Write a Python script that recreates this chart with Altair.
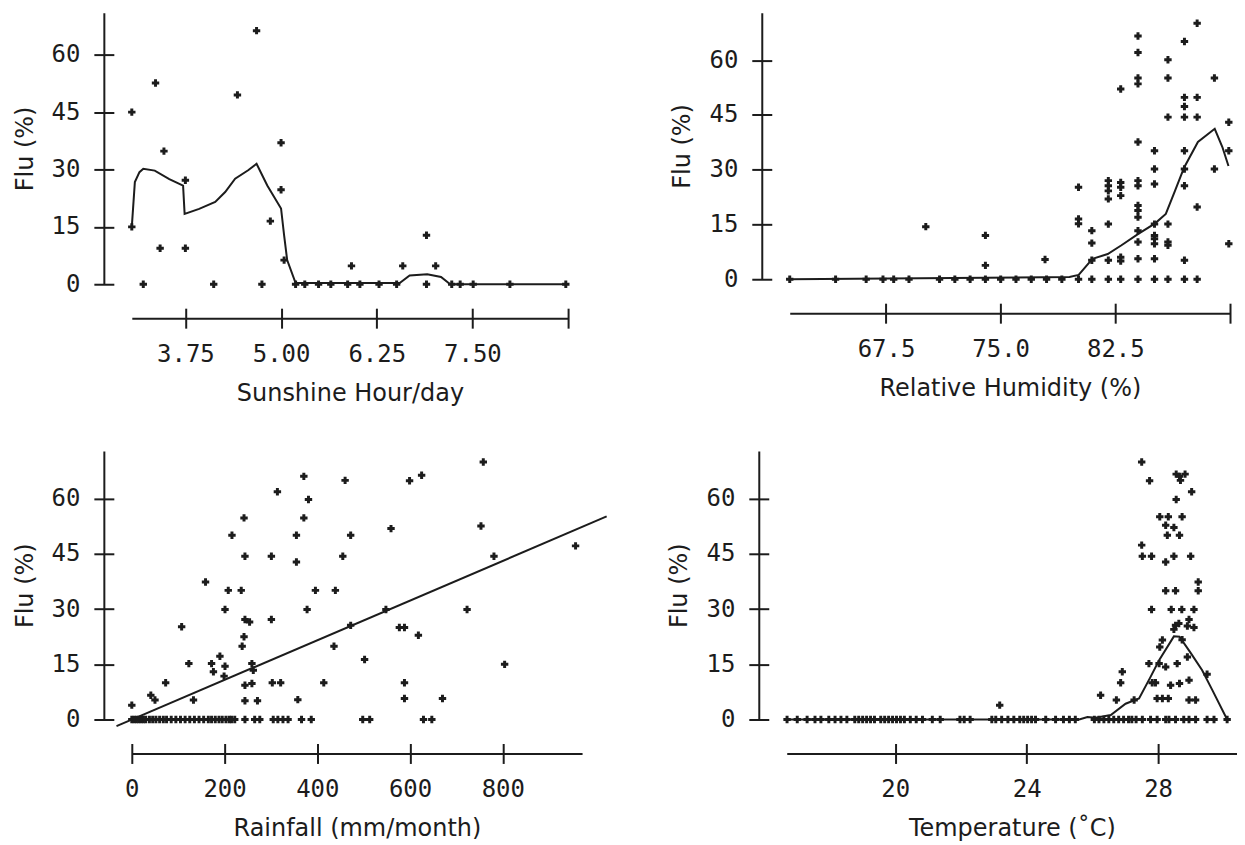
import altair as alt
import pandas as pd

# ---------------- data ----------------
# Panel 1: Sunshine hour/day vs Flu (%)
sun_x = [3.05, 3.05, 3.20, 3.36, 3.42, 3.47, 3.75, 3.75, 4.12, 4.43, 4.68, 4.75, 4.86,
         5.00, 5.00, 5.04, 5.19, 5.31, 5.49, 5.65, 5.87, 5.92, 6.03, 6.28, 6.51, 6.59,
         6.90, 6.90, 7.02, 7.23, 7.34, 7.51, 7.99, 8.72]
sun_flu = [15, 45, 0, 52.6, 9.4, 34.8, 27.2, 9.4, 0, 49.5, 66.3, 0, 16.5,
           37, 24.7, 6.3, 0, 0, 0, 0, 0, 4.8, 0, 0, 0, 4.8,
           12.8, 0, 4.8, 0, 0, 0, 0, 0]
sun_fit_x = [3.05, 3.09, 3.15, 3.20, 3.35, 3.54, 3.72, 3.74, 3.93, 4.14, 4.27, 4.40, 4.57,
             4.68, 4.82, 5.00, 5.04, 5.08, 5.19, 6.55, 6.68, 6.91, 7.09, 7.21, 8.72]
sun_fit_y = [15, 26.7, 29.3, 30.2, 29.7, 27.5, 25.8, 18.4, 19.7, 21.5, 24.1, 27.6, 29.8,
             31.5, 25.8, 19.8, 12.8, 6.3, 0.3, 0.3, 2.3, 2.6, 1.9, 0, 0]

# Panel 2: Relative humidity (%) vs Flu (%)
hum_x = [61.2, 64.2, 66.2, 67.3, 68.0, 69.0, 71.0, 72.0, 73.0, 74.0, 75.0, 76.0, 77.0, 78.0, 79.0,
         70.1, 74.0, 74.0, 77.9,
         80.09, 80.09, 80.09, 80.09,
         80.96, 80.96, 80.96, 80.96,
         82.04, 82.04, 82.04, 82.04, 82.04, 82.04, 82.04,
         82.85, 82.85, 82.85, 82.85, 82.85, 82.85, 82.85,
         83.98, 83.98, 83.98, 83.98, 83.98, 83.98, 83.98, 83.98, 83.98, 83.98, 83.98, 83.98, 83.98, 83.98,
         85.06, 85.06, 85.06, 85.06, 85.06, 85.06, 85.06, 85.06, 85.06,
         85.94, 85.94, 85.94, 85.94, 85.94, 85.94, 85.94,
         87.02, 87.02, 87.02, 87.02, 87.02, 87.02, 87.02, 87.02, 87.02,
         87.85, 87.85, 87.85, 87.85, 87.85,
         88.98, 88.98,
         89.92, 89.92, 89.92]
hum_flu = [0, 0, 0, 0, 0, 0, 0, 0, 0, 0, 0, 0, 0, 0, 0,
           14.4, 12.0, 3.8, 5.4,
           25.2, 16.5, 15.2, 0,
           13.3, 9.9, 5.2, 0,
           27.0, 25.6, 24.2, 22.0, 15.1, 5.2, 0,
           52.1, 26.5, 25.2, 22.9, 6.0, 5.0, 0,
           66.6, 62.1, 55.1, 53.5, 37.6, 27.0, 25.6, 20.2, 18.8, 17.0, 13.3, 10.2, 5.6, 0,
           35.2, 30.2, 26.1, 15.1, 12.0, 11.1, 9.7, 5.6, 0,
           60.1, 55.1, 44.4, 15.1, 10.2, 9.3, 0,
           65.1, 49.8, 47.3, 44.4, 35.2, 30.2, 25.6, 5.2, 0,
           70.1, 49.8, 44.4, 19.8, 0,
           55.1, 30.2,
           43.0, 35.2, 9.7]
hum_fit_x = [61.2, 79.5, 80.1, 81.0, 82.0, 82.9, 84.0, 85.1, 85.8, 86.4, 87.0, 87.9, 89.0, 89.5, 89.9]
hum_fit_y = [0, 0.6, 1.2, 5.6, 6.9, 9.3, 12.4, 15.3, 17.9, 24.2, 30.6, 37.6, 41.2, 36.2, 31.0]

# Panel 3: Rainfall (mm/month) vs Flu (%)
rain_x = [0, 41, 50, 73, 107.5, 123, 133, 159, 172, 176, 190, 201, 199, 201, 208, 216, 236, 238,
          242, 242, 244, 244, 254, 244, 244, 259, 262, 259, 271, 301, 301, 303, 321, 314, 355,
          355, 358, 371, 371, 381, 378, 396, 414, 436, 439, 455, 460, 472, 472, 502, 548, 559,
          577, 588, 588, 588, 599, 618, 625, 670, 723, 753, 758, 781, 804, 957,
          0, 5, 10, 15, 20, 25, 30, 38, 45, 52, 60, 68, 75, 85, 95, 105, 115, 125, 135, 145,
          155, 165, 172, 180, 188, 195, 203, 210, 215, 222, 244, 265, 276, 305, 315, 326, 337,
          366, 387, 498, 513, 629, 647]
rain_flu = [3.9, 6.6, 5.3, 10.0, 25.2, 15.2, 5.3, 37.4, 15.2, 13.0, 17.2, 14.5, 11.8, 29.9, 35.1,
            50.1, 35.1, 19.9, 22.5, 54.8, 44.4, 27.2, 26.5, 9.3, 5.1, 15.2, 13.4, 9.8, 5.1, 44.4,
            27.2, 10.0, 10.0, 61.9, 50.1, 42.8, 5.4, 66.1, 54.8, 59.8, 29.9, 35.1, 10.0, 19.9,
            35.1, 44.4, 65.0, 50.1, 25.6, 16.3, 29.9, 51.9, 25.0, 25.0, 10.0, 5.7, 64.9, 22.9,
            66.4, 5.7, 29.9, 52.6, 70.0, 44.4, 15.0, 47.2,
            0, 0, 0, 0, 0, 0, 0, 0, 0, 0, 0, 0, 0, 0, 0, 0, 0, 0, 0, 0,
            0, 0, 0, 0, 0, 0, 0, 0, 0, 0, 0, 0, 0, 0, 0, 0, 0,
            0, 0, 0, 0, 0, 0]
rain_fit_x = [-33, 1024]
rain_fit_y = [-1.8, 55.2]

# Panel 4: Temperature (C) vs Flu (%)
temp_x = [16.71, 17.02, 17.32, 17.56, 17.74, 17.98, 18.17, 18.35, 18.53, 18.77, 18.89, 19.01,
          19.13, 19.25, 19.37, 19.56, 19.68, 19.80, 19.92, 20.04, 20.16, 20.28, 20.46, 20.64,
          20.83, 21.13, 21.37, 21.97, 22.10, 22.28, 22.94, 23.06, 23.24, 23.43, 23.61, 23.79,
          23.91, 24.03, 24.15, 24.27, 24.58, 24.88, 25.12, 25.30, 25.48, 26.06, 26.20, 26.35,
          26.50, 26.65, 26.80, 26.95, 27.10, 27.20, 27.33, 27.52, 27.77, 27.97, 28.23, 28.33,
          28.53, 28.78, 28.94, 29.14, 29.49, 29.70, 30.10,
          23.18, 27.50, 27.74, 28.55, 28.65, 28.82, 28.68, 29.02, 28.55, 28.05, 28.31, 28.73,
          28.23, 28.48, 28.28, 28.65, 27.50, 27.52, 27.80, 28.23, 28.48, 28.99, 28.23, 28.53,
          29.22, 29.22, 27.80, 28.40, 28.72, 29.09, 28.53, 28.63, 28.94, 28.89, 28.48, 29.09,
          28.05, 28.13, 28.73, 27.72, 28.03, 28.58, 28.23, 28.89, 26.91, 26.86, 27.82, 27.92,
          28.38, 28.65, 28.94, 29.49, 26.25, 26.73, 27.27, 27.97, 28.13, 28.31, 28.94, 29.14]
temp_flu = [0] * 67 + [
          3.9, 70.0, 64.9, 66.7, 66.1, 66.7, 65.0, 61.9, 59.8, 55.1, 55.1, 55.1,
          52.8, 52.2, 50.1, 50.1, 47.4, 44.4, 44.4, 42.8, 44.4, 44.4, 35.0, 35.0,
          37.4, 35.0, 29.9, 29.9, 29.9, 29.9, 25.6, 26.1, 27.2, 25.4, 24.5, 25.0,
          19.7, 21.6, 21.7, 15.2, 15.2, 15.2, 14.3, 17.0, 13.0, 10.0, 10.0, 10.0,
          9.3, 9.8, 10.7, 12.3, 6.6, 5.3, 5.3, 5.7, 5.7, 5.7, 5.3, 5.3]
temp_fit_x = [16.71, 25.6, 25.85, 26.1, 26.56, 27.01, 27.42, 27.77, 28.03, 28.48, 28.65,
              28.99, 29.34, 29.65, 30.10]
temp_fit_y = [0, 0, 0.7, 0.5, 1.2, 4.3, 5.7, 11.6, 16.1, 22.6, 22.5, 18.1, 13.4, 8.0, 0]

flu_ticks = [0, 15, 30, 45, 60]

# ---------------- styling ----------------
INK = "#1c1c1c"
LABEL_FONT = "DejaVu Sans Mono"
TITLE_FONT = "DejaVu Sans"


def panel(px, py, fx, fy, xtitle, xdom, xvals, xfmt, hide_last, ydom, w, h):
    pts = pd.DataFrame({"x": px, "y": py})
    fit = pd.DataFrame({"x": fx, "y": fy})
    xs = alt.Scale(domain=xdom, nice=False, zero=False)
    ys = alt.Scale(domain=ydom, nice=False, zero=False)

    xa = dict(orient="bottom", offset=24, tickSize=20, tickWidth=2, tickColor=INK,
              domain=False, grid=False, values=xvals, format=xfmt,
              labelFont=LABEL_FONT, labelFontSize=24, labelColor=INK, labelPadding=14,
              labelFlush=False, labelOverlap=False,
              titleFont=TITLE_FONT, titleFontSize=24, titleFontWeight="normal",
              titleColor=INK, titlePadding=15)
    if hide_last:
        xa["labelExpr"] = "datum.value >= %s ? '' : format(datum.value, '%s')" % (xvals[-1] - 0.01, xfmt)
    ya = dict(orient="left", offset=18, tickSize=20, tickWidth=2, tickColor=INK,
              domain=False, grid=False, values=flu_ticks, format="d",
              labelFont=LABEL_FONT, labelFontSize=24, labelColor=INK, labelPadding=14,
              labelFlush=False, labelOverlap=False,
              titleFont=TITLE_FONT, titleFontSize=24, titleFontWeight="normal",
              titleColor=INK, titlePadding=14)
    xb = dict(orient="bottom", offset=34, domain=True, domainColor=INK, domainWidth=2,
              ticks=False, labels=False, grid=False)
    yb = dict(orient="left", offset=28, domain=True, domainColor=INK, domainWidth=2,
              ticks=False, labels=False, grid=False)

    points = alt.Chart(pts).mark_point(
        shape="cross", filled=True, size=55, color=INK, opacity=1, strokeWidth=0
    ).encode(
        x=alt.X("x:Q", scale=xs, axis=alt.Axis(**xa), title=xtitle),
        y=alt.Y("y:Q", scale=ys, axis=alt.Axis(**ya), title="Flu (%)"),
    )
    line = alt.Chart(fit).mark_line(color=INK, strokeWidth=2).encode(
        x=alt.X("x:Q", scale=xs, axis=alt.Axis(**xb), title=None),
        y=alt.Y("y:Q", scale=ys, axis=alt.Axis(**yb), title=None),
    )
    return alt.layer(points, line).resolve_scale(
        x="shared", y="shared"
    ).resolve_axis(x="independent", y="independent").properties(width=w, height=h)


p1 = panel(sun_x, sun_flu, sun_fit_x, sun_fit_y, "Sunshine Hour/day",
           [3.05, 8.75], [3.75, 5.0, 6.25, 7.5, 8.75], ".2f", True, [0, 71], 437, 272)
p2 = panel(hum_x, hum_flu, hum_fit_x, hum_fit_y, "Relative Humidity (%)",
           [61.2, 90.0], [67.5, 75.0, 82.5, 90.0], ".1f", True, [0, 73], 441, 267)
p3 = panel(rain_x, rain_flu, rain_fit_x, rain_fit_y, "Rainfall (mm/month)",
           [0, 971], [0, 200, 400, 600, 800], "d", False, [0, 73], 451, 269)
p4 = panel(temp_x, temp_flu, temp_fit_x, temp_fit_y, "Temperature (\u02daC)",
           [16.7, 30.4], [20, 24, 28], "d", False, [0, 73], 451, 269)

row1 = alt.hconcat(p1, p2, spacing=101)
row2 = alt.hconcat(p3, p4, spacing=57)
chart = alt.vconcat(row1, row2, spacing=46).properties(
    padding={"left": 5, "top": 4, "right": 0, "bottom": 0},
    background="white",
).configure_view(strokeWidth=0)

chart.save("out.html", embed_options={"renderer": "svg", "actions": False})
